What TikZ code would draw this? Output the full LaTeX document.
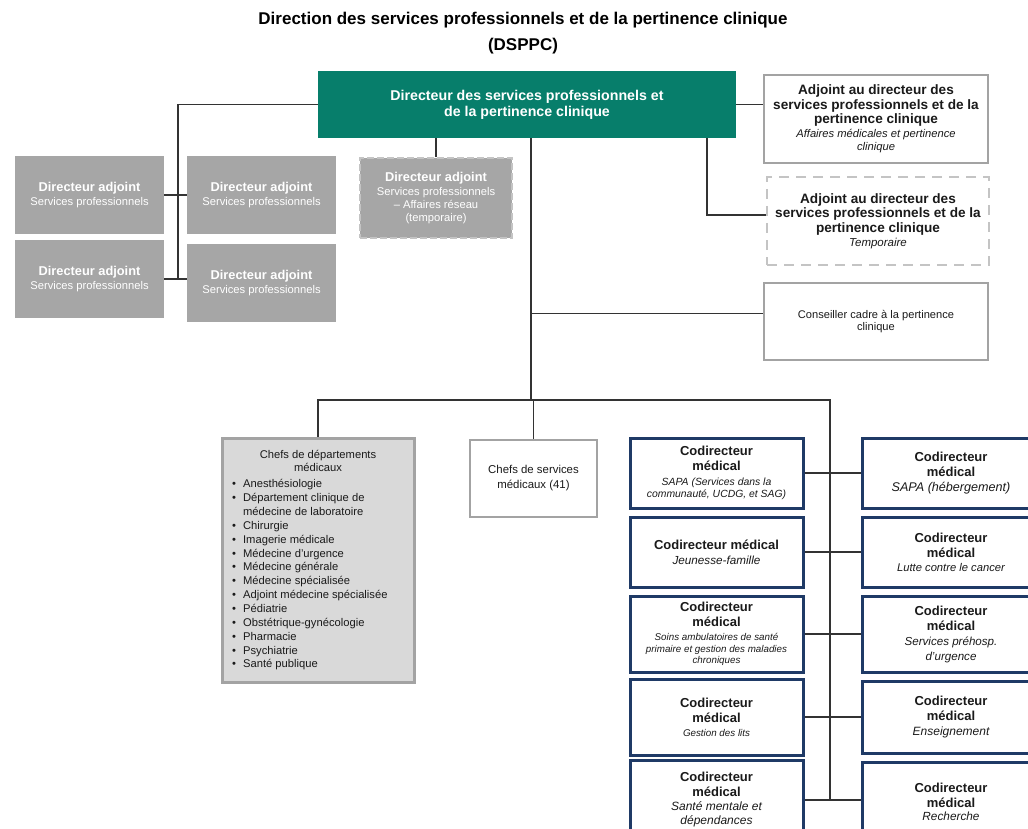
\documentclass[tikz,border=0pt]{standalone}
\usepackage{fontspec}
\setmainfont{Liberation Sans}
\usetikzlibrary{calc}
\definecolor{dirgreen}{HTML}{077E6B}
\definecolor{boxgray}{HTML}{A6A6A6}
\definecolor{dashgray}{HTML}{C4C4C4}
\definecolor{framegray}{HTML}{A3A3A3}
\definecolor{deptfill}{HTML}{D9D9D9}
\definecolor{navy}{HTML}{1F3A66}
\definecolor{linkgray}{HTML}{333333}
\definecolor{inkgray}{HTML}{1A1A1A}
% font size with explicit line pitch
\newcommand\fsz[2]{\fontsize{#1}{#2}\selectfont}
% centred block of lines; each line keeps its own font and pitch
\newcommand\cblock[2]{\parbox{#1}{\centering\lineskiplimit=-100pt\relax #2}}
\tikzset{
  link/.style={draw=linkgray, line width=1.3pt},
  dirbox/.style={fill=dirgreen, text=white, inner sep=0pt},
  adjbox/.style={fill=boxgray, text=white, inner sep=0pt},
  adjdash/.style={adjbox, draw=dashgray, line width=2pt, dash pattern=on 7pt off 3pt},
  outbox/.style={draw=framegray, line width=2pt, fill=white, text=inkgray, inner sep=0pt},
  outdash/.style={outbox, draw=dashgray, line width=2.5pt, dash pattern=on 10pt off 7pt},
  deptbox/.style={draw=framegray, line width=3pt, fill=deptfill, text=inkgray, inner sep=0pt},
  codbox/.style={draw=navy, line width=3pt, fill=white, text=inkgray, inner sep=0pt},
}
\newcommand\cdhead{\bfseries\fsz{13}{15}Codirecteur\\médical\\}
\begin{document}
\begin{tikzpicture}[x=1pt,y=-1pt]
\useasboundingbox (0,0) rectangle (1028,829);
\clip (0,0) rectangle (1028,829);

% title
\node[text=black, inner sep=0pt] (title) at (523,33)
  {\cblock{700pt}{\bfseries\fsz{17}{26}Direction des services professionnels et de la pertinence clinique\\(DSPPC)}};

% director
\node[dirbox, minimum width=418pt, minimum height=67pt] (dir) at (527,104.5)
  {\cblock{400pt}{\bfseries\fsz{14.2}{16}Directeur des services professionnels et\\de la pertinence clinique}};

% deputy directors on the left
\node[adjbox, minimum width=149pt, minimum height=78pt] (da) at (89.5,195)
  {\cblock{145pt}{\bfseries\fsz{12.8}{14}Directeur adjoint\\\mdseries\fsz{11.2}{14}Services professionnels}};
\node[adjbox, minimum width=149pt, minimum height=78pt] (db) at (261.5,195)
  {\cblock{145pt}{\bfseries\fsz{12.8}{14}Directeur adjoint\\\mdseries\fsz{11.2}{14}Services professionnels}};
\node[adjbox, minimum width=149pt, minimum height=78pt] (dc) at (89.5,279)
  {\cblock{145pt}{\bfseries\fsz{12.8}{14}Directeur adjoint\\\mdseries\fsz{11.2}{14}Services professionnels}};
\node[adjbox, minimum width=149pt, minimum height=78pt] (dd) at (261.5,283)
  {\cblock{145pt}{\bfseries\fsz{12.8}{14}Directeur adjoint\\\mdseries\fsz{11.2}{14}Services professionnels}};

% temporary deputy director
\node[adjdash, minimum width=152pt, minimum height=80pt] (dt) at (436,198)
  {\cblock{148pt}{\bfseries\fsz{12.8}{14}Directeur adjoint\\\mdseries\fsz{11.2}{14}Services professionnels\\\fsz{11.2}{13}– Affaires réseau\\(temporaire)}};

% assistants on the right
\node[outbox, minimum width=224pt, minimum height=88pt] (aa) at (876,119)
  {\cblock{220pt}{\bfseries\fsz{13.6}{14.5}Adjoint au directeur des\\services professionnels et de la\\pertinence clinique\\
   \mdseries\itshape\fsz{11.2}{14}Affaires médicales et pertinence\\\fsz{11.2}{13}clinique}};
\node[outdash, minimum width=222pt, minimum height=88pt] (at) at (878,221)
  {\cblock{218pt}{\bfseries\fsz{13.6}{14.5}Adjoint au directeur des\\services professionnels et de la\\pertinence clinique\\
   \mdseries\itshape\fsz{11.5}{14}Temporaire}};
\node[outbox, minimum width=224pt, minimum height=77pt] (cc) at (876,321.5)
  {\cblock{220pt}{\fsz{11.1}{12.5}Conseiller cadre à la pertinence\\clinique}};

% department heads
\node[deptbox, minimum width=192pt, minimum height=244pt] (dept) at (318,560) {};
\node[text=inkgray, inner sep=0pt, anchor=north] (depth) at (318,450)
  {\cblock{188pt}{\fsz{11.2}{13}Chefs de départements\\médicaux}};
\node[text=inkgray, font=\fsz{11.2}{13.85}, anchor=north west, inner sep=0pt] (deptl) at (232,478)
  {\begin{tabular}{@{}l@{\hspace{7pt}}l@{}}
   • & Anesthésiologie\\
   • & Département clinique de\\
     & médecine de laboratoire\\
   • & Chirurgie\\
   • & Imagerie médicale\\
   • & Médecine d’urgence\\
   • & Médecine générale\\
   • & Médecine spécialisée\\
   • & Adjoint médecine spécialisée\\
   • & Pédiatrie\\
   • & Obstétrique-gynécologie\\
   • & Pharmacie\\
   • & Psychiatrie\\
   • & Santé publique
   \end{tabular}};

% service heads
\node[outbox, minimum width=127pt, minimum height=77pt] (svc) at (533.5,478.5)
  {\cblock{123pt}{\fsz{11.4}{15}Chefs de services\\médicaux (41)}};

% medical co-directors, left column
\node[codbox, minimum width=173pt, minimum height=70pt] (cl1) at (716.5,473)
  {\cblock{170pt}{\cdhead\mdseries\itshape\fsz{10.4}{15}SAPA (Services dans la\\\fsz{10.4}{12}communauté, UCDG, et SAG)}};
\node[codbox, minimum width=173pt, minimum height=70pt] (cl2) at (716.5,552)
  {\cblock{170pt}{\bfseries\fsz{13}{15}Codirecteur médical\\\mdseries\itshape\fsz{11.7}{15}Jeunesse-famille}};
\node[codbox, minimum width=173pt, minimum height=76pt] (cl3) at (716.5,634)
  {\cblock{170pt}{\cdhead\mdseries\itshape\fsz{9.8}{14}Soins ambulatoires de santé\\\fsz{9.8}{12}primaire et gestion des maladies\\\fsz{9.8}{11}chroniques}};
\node[codbox, minimum width=173pt, minimum height=76pt] (cl4) at (716.5,717)
  {\cblock{170pt}{\cdhead\mdseries\itshape\fsz{9.8}{14}Gestion des lits}};
\node[codbox, minimum width=173pt, minimum height=80pt] (cl5) at (716.5,800)
  {\cblock{170pt}{\cdhead\mdseries\itshape\fsz{12}{14}Santé mentale et\\dépendances}};

% medical co-directors, right column
\node[codbox, minimum width=178pt, minimum height=70pt] (cr1) at (951,473)
  {\cblock{174pt}{\cdhead\mdseries\itshape\fsz{12.6}{14.5}SAPA (hébergement)}};
\node[codbox, minimum width=178pt, minimum height=70pt] (cr2) at (951,552)
  {\cblock{174pt}{\cdhead\mdseries\itshape\fsz{11.2}{14}Lutte contre le cancer}};
\node[codbox, minimum width=178pt, minimum height=76pt] (cr3) at (951,634)
  {\cblock{174pt}{\cdhead\mdseries\itshape\fsz{11.6}{15}Services préhosp.\\d’urgence}};
\node[codbox, minimum width=178pt, minimum height=72pt] (cr4) at (951,717)
  {\cblock{174pt}{\cdhead\mdseries\itshape\fsz{12}{15}Enseignement}};
\node[codbox, minimum width=178pt, minimum height=80pt] (cr5) at (951,802)
  {\cblock{174pt}{\cdhead\mdseries\itshape\fsz{11.8}{13.5}Recherche}};

% connectors
\coordinate (lspine) at (178,0);
\coordinate (rspine) at (707,0);
\coordinate (trunk) at (531,0);
\coordinate (bus) at (0,400);
\coordinate (cspine) at (830,0);

\draw[link] (dir.west) -| (lspine |- dc.east);
\draw[link] (da.east) -- (db.west);
\draw[link] (dc.east) -- (dc.east -| dd.west);
\draw[link] (dt.north) -- (dt.north |- dir.south);
\draw[link] (dir.east) -- (dir.east -| aa.west);
\draw[link] (rspine |- dir.south) |- ($(at.west)+(0,-6)$);
\draw[link] (trunk |- dir.south) -- (trunk |- bus);
\draw[link] ($(trunk |- cc.west)+(0,-8)$) -- ($(cc.west)+(0,-8)$);
\draw[link] (dept.north) -- (dept.north |- bus) -- (cspine |- bus) -- (cspine |- cl5.east);
\draw[link] (svc.north) -- (svc.north |- bus);
\foreach \r in {1,...,5} {
  \draw[link] (cl\r.east) -- (cl\r.east -| cr\r.west);
}
\end{tikzpicture}
\end{document}
